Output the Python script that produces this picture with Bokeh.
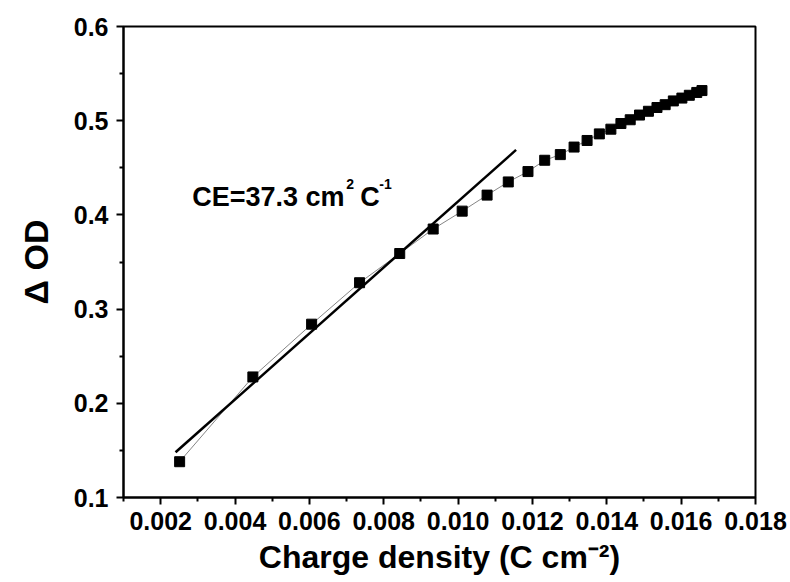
from bokeh.plotting import figure
from bokeh.models import FixedTicker, NumeralTickFormatter, Range1d
from bokeh.core.properties import value
from bokeh.embed import file_html
from bokeh.resources import INLINE

# data
charge_density = [0.00251, 0.00448, 0.00606, 0.00735, 0.00843, 0.00933, 0.01011,
                  0.01078, 0.01135, 0.01188, 0.01233, 0.01275, 0.01312, 0.01347,
                  0.01380, 0.01411, 0.01438, 0.01463, 0.01488, 0.01512, 0.01535,
                  0.01557, 0.01579, 0.01602, 0.01622, 0.01642, 0.01656]
delta_od = [0.138, 0.228, 0.284, 0.328, 0.359, 0.385, 0.404,
            0.421, 0.435, 0.446, 0.458, 0.464, 0.472, 0.479,
            0.486, 0.491, 0.497, 0.501, 0.506, 0.510, 0.514,
            0.517, 0.521, 0.524, 0.527, 0.530, 0.532]
fit_x = [0.0024, 0.01156]
fit_y = [0.148, 0.469]
x_ticks = [0.002, 0.004, 0.006, 0.008, 0.010, 0.012, 0.014, 0.016, 0.018]
x_minor = [0.001, 0.003, 0.005, 0.007, 0.009, 0.011, 0.013, 0.015, 0.017]
y_ticks = [0.1, 0.2, 0.3, 0.4, 0.5, 0.6]
y_minor = [0.15, 0.25, 0.35, 0.45, 0.55]
annotation_parts = ["CE=37.3 cm", "2", "C", "-1"]
annotation_x = 0.00285
annotation_y = 0.4185

FONT = "Liberation Sans"

p = figure(width=790, height=582, output_backend="svg", toolbar_location=None,
           x_range=Range1d(0.001, 0.018), y_range=Range1d(0.1, 0.6),
           min_border_left=123, min_border_right=35, min_border_top=26,
           min_border_bottom=85)
p.grid.visible = False
p.background_fill_color = "white"
p.border_fill_color = "white"
p.outline_line_color = "black"
p.outline_line_width = 2
p.outline_line_alpha = 1

# thin connecting line and data markers
p.line(charge_density, delta_od, line_color="#666666", line_width=0.8)
p.scatter(charge_density, delta_od, marker="square", size=10,
          fill_color="black", line_color="black")
# linear fit
p.line(fit_x, fit_y, line_color="black", line_width=2.5)

# annotation with superscripts, built from pieces
common = dict(text_font=value(FONT), text_font_style="bold", text_color="black",
              text_baseline="alphabetic", text_align="left")
p.text(x=[annotation_x], y=[annotation_y], text=[annotation_parts[0]],
       text_font_size="27px", **common)
p.text(x=[annotation_x], y=[annotation_y], text=[annotation_parts[1]],
       text_font_size="14px", x_offset=154, y_offset=-13, **common)
p.text(x=[annotation_x], y=[annotation_y], text=[annotation_parts[2]],
       text_font_size="27px", x_offset=168, **common)
p.text(x=[annotation_x], y=[annotation_y], text=[annotation_parts[3]],
       text_font_size="14px", x_offset=187, y_offset=-13, **common)

xa = p.xaxis[0]
xa.ticker = FixedTicker(ticks=x_ticks, minor_ticks=x_minor)
xa.formatter = NumeralTickFormatter(format="0.000")
xa.axis_label = "Charge density (C cm\u207b\u00b2)"
ya = p.yaxis[0]
ya.ticker = FixedTicker(ticks=y_ticks, minor_ticks=y_minor)
ya.formatter = NumeralTickFormatter(format="0.0")
ya.axis_label = "\u0394 OD"

for ax in (xa, ya):
    ax.axis_line_width = 2
    ax.axis_line_color = "black"
    ax.major_tick_line_width = 2
    ax.minor_tick_line_width = 2
    ax.major_tick_in = 0
    ax.major_tick_out = 7
    ax.minor_tick_in = 0
    ax.minor_tick_out = 4
    ax.major_label_text_font = FONT
    ax.major_label_text_font_style = "bold"
    ax.major_label_text_font_size = "25px"
    ax.major_label_text_color = "black"
    ax.axis_label_text_font = FONT
    ax.axis_label_text_font_style = "bold"
    ax.axis_label_text_color = "black"

xa.major_label_standoff = 7
xa.axis_label_text_font_size = "32px"
xa.axis_label_standoff = 6
ya.major_label_standoff = 8
ya.axis_label_text_font_size = "34px"
ya.axis_label_standoff = 16

open("out.html", "w").write(file_html(p, INLINE))
